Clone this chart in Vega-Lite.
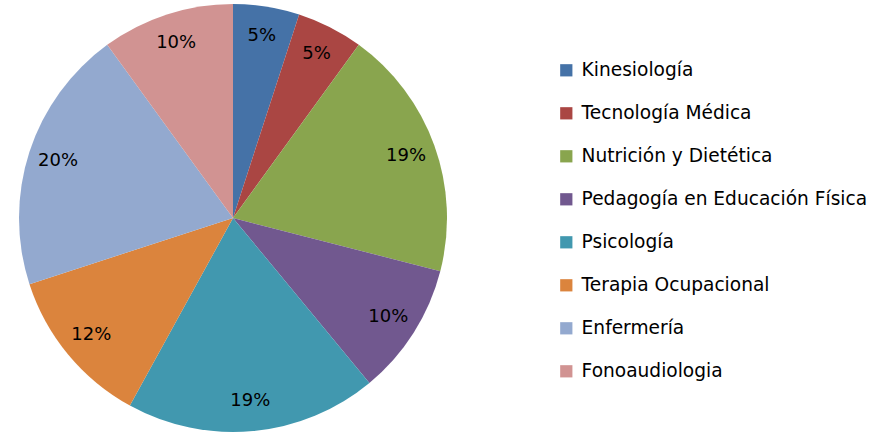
{
  "$schema": "https://vega.github.io/schema/vega-lite/v6.json",
  "width": 466,
  "height": 436,
  "autosize": "none",
  "padding": {"left": 0, "top": 0, "right": 422, "bottom": 0},
  "background": "white",
  "view": {"stroke": null},
  "data": {"values": [
    {"idx": 1, "carrera": "Kinesiología", "pct": 0.05},
    {"idx": 2, "carrera": "Tecnología Médica", "pct": 0.05},
    {"idx": 3, "carrera": "Nutrición y Dietética", "pct": 0.19},
    {"idx": 4, "carrera": "Pedagogía en Educación Física", "pct": 0.10},
    {"idx": 5, "carrera": "Psicología", "pct": 0.19},
    {"idx": 6, "carrera": "Terapia Ocupacional", "pct": 0.12},
    {"idx": 7, "carrera": "Enfermería", "pct": 0.20},
    {"idx": 8, "carrera": "Fonoaudiologia", "pct": 0.10}
  ]},
  "encoding": {
    "theta": {"field": "pct", "type": "quantitative", "stack": true},
    "order": {"field": "idx", "type": "quantitative"},
    "color": {
      "field": "carrera",
      "type": "nominal",
      "scale": {
        "domain": ["Kinesiología", "Tecnología Médica", "Nutrición y Dietética", "Pedagogía en Educación Física", "Psicología", "Terapia Ocupacional", "Enfermería", "Fonoaudiologia"],
        "range": ["#4572A7", "#AA4643", "#89A54E", "#71588F", "#4198AF", "#DB843D", "#93A9CF", "#D19392"]
      },
      "legend": {
        "title": null,
        "orient": "none",
        "legendX": 557,
        "legendY": 61,
        "symbolType": "square",
        "symbolSize": 150,
        "symbolStrokeWidth": 0,
        "symbolOpacity": 1,
        "labelFont": "DejaVu Sans",
        "labelFontSize": 18.6,
        "labelColor": "#000000",
        "labelOffset": 6,
        "rowPadding": 24,
        "labelLimit": 400
      }
    }
  },
  "layer": [
    {"mark": {"type": "arc", "outerRadius": 214, "stroke": null}},
    {
      "mark": {"type": "text", "radius": 184, "font": "DejaVu Sans", "fontSize": 18, "color": "#000000"},
      "encoding": {
        "text": {"field": "pct", "type": "quantitative", "format": ".0%"},
        "color": {"value": "#000000"}
      }
    }
  ]
}
